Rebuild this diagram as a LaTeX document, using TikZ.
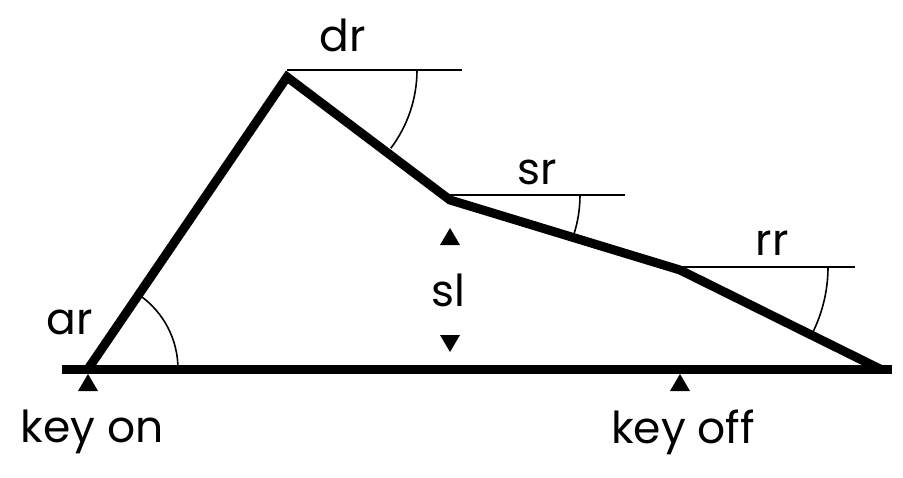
\documentclass[tikz,border=0pt]{standalone}
\usepackage{fontspec}
\setmainfont{Poppins}
\begin{document}
\begin{tikzpicture}[x=1pt,y=-1pt,
  thick line/.style={line width=9pt,line join=miter},
  thin line/.style={line width=1.6pt},
  lbl/.style={font=\fontsize{44}{44}\selectfont,inner sep=0pt},
  tri/.style={fill=black}]
\useasboundingbox (0,0) rectangle (903,477);
\coordinate (A) at (88,369);
\coordinate (P) at (287,77);
\coordinate (S) at (450,200);
\coordinate (R) at (680,270);
\coordinate (E) at (880,369);
\coordinate (B0) at (62,369);
\coordinate (B1) at (892,369);
\draw[thick line] (B0) -- (B1);
\draw[thick line] (A) -- (P) -- (S) -- (R) -- (E);
% reference lines
\draw[thin line] (287,70) -- (462,70);
\draw[thin line] (450,195) -- (625,195);
\draw[thin line] (680,267) -- (855,267);
% arcs
\draw[thin line] (178,369) arc[start angle=0,end angle=-55,radius=90];
\draw[thin line] (417,70) arc[start angle=0,end angle=37,radius=130];
\draw[thin line] (580,195) arc[start angle=0,end angle=17,radius=130];
\draw[thin line] (828,267) arc[start angle=0,end angle=27,radius=148];
% triangles
\fill[tri] (450,228) -- (460,245) -- (440,245) -- cycle;
\fill[tri] (450,352) -- (460,335) -- (440,335) -- cycle;
\fill[tri] (88,374) -- (98,391) -- (78,391) -- cycle;
\fill[tri] (680,374) -- (690,391) -- (670,391) -- cycle;
% labels
\node[lbl] (dr) at (343,35) {dr};
\node[lbl] (sr) at (537,172) {sr};
\node[lbl] (rr) at (772,243) {rr};
\node[lbl] (sl) at (448,290) {sl};
\node[lbl] (ar) at (70,322) {ar};
\node[lbl] (kon) at (92,432) {key on};
\node[lbl] (koff) at (683,432) {key off};
\end{tikzpicture}
\end{document}
